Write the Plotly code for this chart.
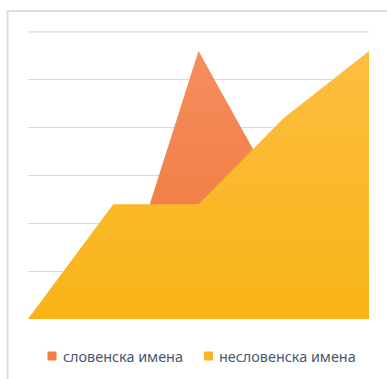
import plotly.graph_objects as go

# Category positions along the x axis (labels are not shown on the chart)
categories = ["1", "2", "3", "4", "5"]

# Series values
series_names = ["словенска имена", "несловенска имена"]
slovenian = [0, 0, 28, 12, 10]
non_slovenian = [0, 12, 12, 21, 28]

y_max = 30
y_step = 5
y_top = 30.1  # a little headroom above the last gridline

W, H = 387, 379
ML, MR, MT, MB = 28, 18, 31, 60
PW, PH = W - ML - MR, H - MT - MB
GRID = "#D3DCE7"


def px_x(p):
    return (p - ML) / PW


def px_y(p):
    return (H - MB - p) / PH


fig = go.Figure()

fig.add_trace(go.Scatter(
    x=categories, y=slovenian, name=series_names[0],
    mode="lines", line=dict(width=0, color="#F07A3A"),
    fill="tozeroy",
    fillgradient=dict(type="vertical", start=0, stop=28,
                      colorscale=[[0, "#EF7535"], [1, "#F58E5E"]]),
    showlegend=False, hoverinfo="skip",
))
fig.add_trace(go.Scatter(
    x=categories, y=non_slovenian, name=series_names[1],
    mode="lines", line=dict(width=0, color="#F9B51B", shape="linear"),
    fill="tozeroy",
    fillgradient=dict(type="vertical", start=0, stop=28,
                      colorscale=[[0, "#F8B416"], [1, "#FDBE40"]]),
    showlegend=False, hoverinfo="skip",
))

shapes = [
    # outer chart frame (left and top edges visible)
    dict(type="rect", xref="paper", yref="paper",
         x0=px_x(7.5), x1=px_x(W + 10), y0=px_y(H + 10), y1=px_y(11),
         line=dict(color="#D6DFE9", width=2), fillcolor="rgba(0,0,0,0)",
         layer="below"),
    # top gridline at the axis maximum
    dict(type="line", xref="paper", yref="y", x0=0, x1=1,
         y0=y_max, y1=y_max, line=dict(color=GRID, width=1.3),
         layer="below"),
]

# Legend built from squares and labels under the plot
legend_items = [
    (series_names[0], "#F17D40", 47.5, 60.5),
    (series_names[1], "#FAB625", 204, 216.5),
]
annotations = []
for name, color, sq_x, tx_x in legend_items:
    shapes.append(dict(type="rect", xref="paper", yref="paper",
                       x0=px_x(sq_x), x1=px_x(sq_x + 9),
                       y0=px_y(360.5), y1=px_y(351.5),
                       line=dict(width=0), fillcolor=color))
    annotations.append(dict(text=name, xref="paper", yref="paper",
                            x=px_x(tx_x), y=px_y(356), xanchor="left",
                            yanchor="middle", showarrow=False,
                            font=dict(family="Noto Sans", size=14.4,
                                      color="#485870")))

fig.update_layout(
    width=W, height=H,
    margin=dict(l=ML, r=MR, t=MT, b=MB),
    paper_bgcolor="white", plot_bgcolor="white",
    xaxis=dict(type="category", range=[0, len(categories) - 1],
               showgrid=False, showticklabels=False, zeroline=False,
               showline=False, ticks=""),
    yaxis=dict(range=[0, y_top], tick0=0, dtick=y_step, showgrid=True,
               gridcolor=GRID, gridwidth=1.3, showticklabels=False,
               zeroline=False, showline=False, ticks=""),
    shapes=shapes,
    annotations=annotations,
    showlegend=False,
)

fig.write_html("out.html")
